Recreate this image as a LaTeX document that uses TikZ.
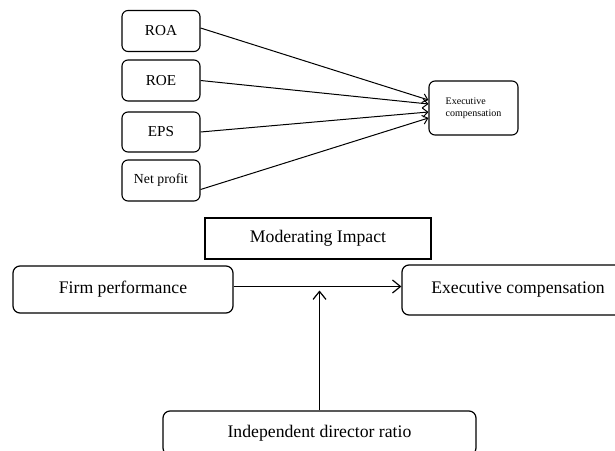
\documentclass[tikz,border=0pt]{standalone}
\usepackage{fontspec}
\setmainfont{Liberation Serif}
\usepackage{tikz}
\usetikzlibrary{positioning,calc,arrows.meta}

\tikzset{
    var/.style={draw, line width=1.1pt, rounded corners=6pt, inner sep=0pt,
        minimum width=78pt, minimum height=41pt},
    bigvar/.style={draw, line width=1.2pt, rounded corners=7pt, inner sep=0pt,
        font=\fontsize{17.7}{21}\selectfont},
    link/.style={-{Straight Barb[length=5pt,width=9pt]}, line width=1pt},
    biglink/.style={-{Straight Barb[length=8pt,width=13pt]}, line width=1.2pt}
}

\begin{document}
\begin{tikzpicture}[x=1pt, y=1pt]
    \useasboundingbox (0,0) rectangle (615,450);

    % Performance measures
    \node[var, font=\fontsize{15.2}{18}\selectfont] (roa) at (161,419) {ROA};
    \node[var, font=\fontsize{15.2}{18}\selectfont] (roe) at (161,369.5) {ROE};
    \node[var, font=\fontsize{15.2}{18}\selectfont, minimum height=40pt] (eps) at (161,318) {EPS};
    \node[var, font=\fontsize{13.8}{16}\selectfont] (np) at (161,269.5) {Net profit};

    % Compensation
    \node[var, minimum width=89pt, minimum height=54pt, align=left,
        font=\fontsize{10}{12}\selectfont] (ecs) at (473.5,342) {Executive\\compensation};

    % Paths
    \draw[link] ([yshift=3pt]roa.east) -- ([yshift=8pt]ecs.west);
    \draw[link] (roe.east) -- ([yshift=4pt]ecs.west);
    \draw[link] (eps.east) -- ([yshift=-4pt]ecs.west);
    \draw[link] ([yshift=-9pt]np.east) -- ([yshift=-10pt]ecs.west);

    % Moderation model
    \node[bigvar, rounded corners=0pt, minimum width=226pt, minimum height=41pt] (mod) at (318,211.5) {Moderating Impact};
    \node[bigvar, minimum width=220pt, minimum height=47pt] (firm) at (123,160.5) {Firm performance};
    \node[bigvar, minimum width=232pt, minimum height=50pt] (ec) at (518,160) {Executive compensation};
    \node[bigvar, minimum width=313pt, minimum height=44pt] (ind) at (319.5,17) {Independent director ratio};

    % Effects
    \coordinate (m) at (ind.north |- firm.east);
    \draw[biglink] ([yshift=3pt]firm.east) -- ([yshift=3pt]firm.east -| ec.west);
    \draw[biglink] (ind.north) -- ([yshift=-1pt]m);
\end{tikzpicture}
\end{document}
